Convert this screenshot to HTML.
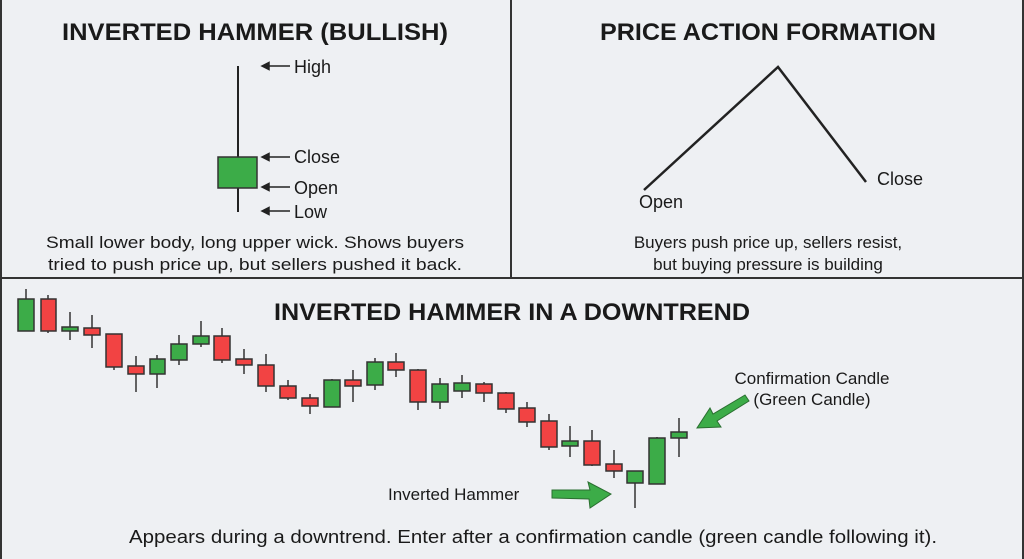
<!DOCTYPE html>
<html><head><meta charset="utf-8"><style>
html,body{margin:0;padding:0;background:#eef0f3}
svg{display:block}
text{font-family:"Liberation Sans","DejaVu Sans",sans-serif;fill:#1a1a1a}
</style></head><body>
<svg width="1024" height="559" viewBox="0 0 1024 559" xmlns="http://www.w3.org/2000/svg">
<rect width="1024" height="559" fill="#eef0f3"/>
<g stroke="#333" stroke-width="2" fill="none">
<line x1="0" y1="278" x2="1024" y2="278"/>
<line x1="511" y1="0" x2="511" y2="278"/>
<line x1="1" y1="0" x2="1" y2="559"/>
<line x1="1023" y1="0" x2="1023" y2="559"/>
</g>
<text x="255" y="40" font-size="24" font-weight="bold" text-anchor="middle" textLength="386" lengthAdjust="spacingAndGlyphs">INVERTED HAMMER (BULLISH)</text>
<text x="768" y="40" font-size="24" font-weight="bold" text-anchor="middle" textLength="336" lengthAdjust="spacingAndGlyphs">PRICE ACTION FORMATION</text>
<text x="512" y="320" font-size="24" font-weight="bold" text-anchor="middle" textLength="476" lengthAdjust="spacingAndGlyphs">INVERTED HAMMER IN A DOWNTREND</text>
<line x1="238" y1="66" x2="238" y2="212" stroke="#222" stroke-width="2"/>
<rect x="218" y="157" width="39" height="31" fill="#3cac48" stroke="#333" stroke-width="1.5"/>
<g stroke="#222" stroke-width="1.5" fill="#222">
<line x1="266" y1="66" x2="290" y2="66"/><path d="M262 66 l7 -3.5 v7z"/>
<line x1="266" y1="157" x2="290" y2="157"/><path d="M262 157 l7 -3.5 v7z"/>
<line x1="266" y1="187" x2="290" y2="187"/><path d="M262 187 l7 -3.5 v7z"/>
<line x1="266" y1="211" x2="290" y2="211"/><path d="M262 211 l7 -3.5 v7z"/>
</g>
<g font-size="18">
<text x="294" y="73">High</text>
<text x="294" y="163">Close</text>
<text x="294" y="194">Open</text>
<text x="294" y="218">Low</text>
</g>
<text x="255" y="248" font-size="17" text-anchor="middle" textLength="418" lengthAdjust="spacingAndGlyphs">Small lower body, long upper wick. Shows buyers</text>
<text x="255" y="270" font-size="17" text-anchor="middle" textLength="414" lengthAdjust="spacingAndGlyphs">tried to push price up, but sellers pushed it back.</text>
<polyline points="644,190 778,67 866,182" fill="none" stroke="#222" stroke-width="2.5"/>
<text x="639" y="208" font-size="18">Open</text>
<text x="877" y="185" font-size="18">Close</text>
<text x="768" y="248" font-size="17" text-anchor="middle">Buyers push price up, sellers resist,</text>
<text x="768" y="270" font-size="17" text-anchor="middle">but buying pressure is building</text>
<g stroke="#333" stroke-width="1.5">
<line x1="26" y1="289" x2="26" y2="331"/><rect x="18" y="299" width="16" height="32" fill="#3cac48"/>
<line x1="48" y1="295" x2="48" y2="333"/><rect x="41" y="299" width="15" height="32" fill="#f24343"/>
<line x1="70" y1="312" x2="70" y2="340"/><rect x="62" y="327" width="16" height="4" fill="#3cac48"/>
<line x1="92" y1="315" x2="92" y2="348"/><rect x="84" y="328" width="16" height="7" fill="#f24343"/>
<line x1="114" y1="334" x2="114" y2="370"/><rect x="106" y="334" width="16" height="33" fill="#f24343"/>
<line x1="136" y1="356" x2="136" y2="392"/><rect x="128" y="366" width="16" height="8" fill="#f24343"/>
<line x1="157" y1="355" x2="157" y2="388"/><rect x="150" y="359" width="15" height="15" fill="#3cac48"/>
<line x1="179" y1="335" x2="179" y2="365"/><rect x="171" y="344" width="16" height="16" fill="#3cac48"/>
<line x1="201" y1="321" x2="201" y2="347"/><rect x="193" y="336" width="16" height="8" fill="#3cac48"/>
<line x1="222" y1="328" x2="222" y2="363"/><rect x="214" y="336" width="16" height="24" fill="#f24343"/>
<line x1="244" y1="349" x2="244" y2="374"/><rect x="236" y="359" width="16" height="6" fill="#f24343"/>
<line x1="266" y1="354" x2="266" y2="392"/><rect x="258" y="365" width="16" height="21" fill="#f24343"/>
<line x1="288" y1="380" x2="288" y2="400"/><rect x="280" y="386" width="16" height="12" fill="#f24343"/>
<line x1="310" y1="394" x2="310" y2="414"/><rect x="302" y="398" width="16" height="8" fill="#f24343"/>
<line x1="332" y1="379" x2="332" y2="407"/><rect x="324" y="380" width="16" height="27" fill="#3cac48"/>
<line x1="353" y1="370" x2="353" y2="402"/><rect x="345" y="380" width="16" height="6" fill="#f24343"/>
<line x1="375" y1="358" x2="375" y2="390"/><rect x="367" y="362" width="16" height="23" fill="#3cac48"/>
<line x1="396" y1="353" x2="396" y2="377"/><rect x="388" y="362" width="16" height="8" fill="#f24343"/>
<line x1="418" y1="369" x2="418" y2="410"/><rect x="410" y="370" width="16" height="32" fill="#f24343"/>
<line x1="440" y1="378" x2="440" y2="409"/><rect x="432" y="384" width="16" height="18" fill="#3cac48"/>
<line x1="462" y1="375" x2="462" y2="398"/><rect x="454" y="383" width="16" height="8" fill="#3cac48"/>
<line x1="484" y1="382" x2="484" y2="402"/><rect x="476" y="384" width="16" height="9" fill="#f24343"/>
<line x1="506" y1="392" x2="506" y2="413"/><rect x="498" y="393" width="16" height="16" fill="#f24343"/>
<line x1="527" y1="402" x2="527" y2="427"/><rect x="519" y="408" width="16" height="14" fill="#f24343"/>
<line x1="549" y1="414" x2="549" y2="450"/><rect x="541" y="421" width="16" height="26" fill="#f24343"/>
<line x1="570" y1="426" x2="570" y2="457"/><rect x="562" y="441" width="16" height="5" fill="#3cac48"/>
<line x1="592" y1="430" x2="592" y2="466"/><rect x="584" y="441" width="16" height="24" fill="#f24343"/>
<line x1="614" y1="450" x2="614" y2="478"/><rect x="606" y="464" width="16" height="7" fill="#f24343"/>
<line x1="635" y1="471" x2="635" y2="508"/><rect x="627" y="471" width="16" height="12" fill="#3cac48"/>
<line x1="657" y1="437" x2="657" y2="484"/><rect x="649" y="438" width="16" height="46" fill="#3cac48"/>
<line x1="679" y1="418" x2="679" y2="457"/><rect x="671" y="432" width="16" height="6" fill="#3cac48"/>
</g>
<path d="M552 490 L590 490 L588 482 L611 494 L590 508 L589 499 L552 498 Z" fill="#3cac48" stroke="#2a6e30" stroke-width="1"/>
<path d="M745 395 L713 414 L710 408 L697 428 L721 427 L717 421 L749 401 Z" fill="#3cac48" stroke="#2a6e30" stroke-width="1"/>
<text x="388" y="500" font-size="17">Inverted Hammer</text>
<text x="812" y="384" font-size="17" text-anchor="middle">Confirmation Candle</text>
<text x="812" y="405" font-size="17" text-anchor="middle">(Green Candle)</text>
<text x="533" y="543" font-size="18" text-anchor="middle" textLength="808" lengthAdjust="spacingAndGlyphs">Appears during a downtrend. Enter after a confirmation candle (green candle following it).</text>
</svg>
</body></html>
